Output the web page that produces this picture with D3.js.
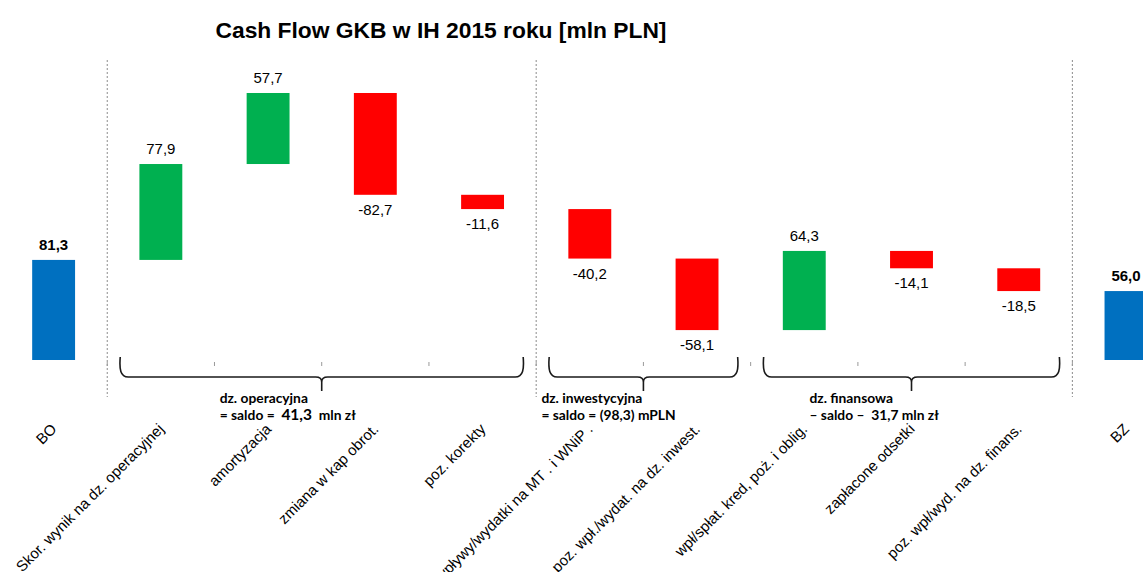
<!DOCTYPE html>
<html>
<head>
<meta charset="utf-8">
<script src="https://cdn.jsdelivr.net/npm/d3@7"></script>
<style>
  html, body { margin: 0; padding: 0; background: #fff; }
  svg { display: block; }
</style>
</head>
<body>
<svg id="chart" width="1143" height="572"></svg>
<script>
// ---- data ----
const title = "Cash Flow GKB w IH 2015 roku [mln PLN]";
const categories = [
  "BO",
  "Skor. wynik na dz. operacyjnej",
  "amortyzacja",
  "zmiana w kap obrot.",
  "poz. korekty",
  "wpływy/wydatki na MT . i WNiP .",
  "poz. wpł./wydat. na dz. inwest.",
  "wpł/spłat. kred, poż. i oblig.",
  "zapłacone odsetki",
  "poz. wpł/wyd. na dz. finans.",
  "BZ"
];
const values = [81.3, 77.9, 57.7, -82.7, -11.6, -40.2, -58.1, 64.3, -14.1, -18.5, 56.0];
const kinds  = ["total","delta","delta","delta","delta","delta","delta","delta","delta","delta","total"];

const sectionNames = ["dz. operacyjna", "dz. inwestycyjna", "dz. finansowa"];
const sectionPrefix = ["= saldo =  ", "= saldo = (98,3) mPLN", "– saldo –  31,7 mln zł"];
const sectionBig    = ["41,3", "", ""];
const sectionSuffix = ["  mln zł", "", ""];
const sectionFirst  = [1, 5, 7];
const sectionLast   = [4, 6, 9];
const separatorsAfter = [0, 4, 9];

// ---- layout ----
const W = 1143, H = 572;
const baseY = 360;
const pxPerUnit = 1.231;
const svg = d3.select("#chart");

const x = d3.scaleBand().domain(categories).range([0, 1179.6]).paddingInner(0.6).paddingOuter(0.3);
const y = d3.scaleLinear().domain([0, 250]).range([baseY, baseY - 250 * pxPerUnit]);

const colPos = "#00B050", colNeg = "#FF0000", colTot = "#0070C0";
const fmt = v => (v < 0 ? "-" : "") + d3.format(".1f")(Math.abs(v)).replace(".", ",");

// waterfall
let running = 0;
const bars = values.map((v, i) => {
  let lo, hi;
  if (kinds[i] === "total") { lo = 0; hi = v; running = v; }
  else { const s = running; running = s + v; lo = Math.min(s, running); hi = Math.max(s, running); }
  return { cat: categories[i], v, kind: kinds[i], lo, hi };
});

const boundary = i => x(categories[i]) + x.bandwidth() / 2 - x.step() / 2;

// title
svg.append("text")
  .attr("x", 441).attr("y", 38)
  .attr("text-anchor", "middle")
  .style("font-family", "'Liberation Sans', Arial, sans-serif")
  .style("font-weight", "bold")
  .style("font-size", "22.8px")
  .text(title);

// separators
svg.selectAll("line.sep").data(separatorsAfter).join("line")
  .attr("class", "sep")
  .attr("x1", d => boundary(d + 1)).attr("x2", d => boundary(d + 1))
  .attr("y1", 60).attr("y2", 397)
  .attr("stroke", "#8c8c8c").attr("stroke-width", 1)
  .attr("stroke-dasharray", "2,2");

// small boundary ticks
svg.selectAll("line.tk").data(d3.range(1, categories.length)).join("line")
  .attr("class", "tk")
  .attr("x1", d => boundary(d)).attr("x2", d => boundary(d))
  .attr("y1", 362).attr("y2", 366)
  .attr("stroke", "#9a9a9a").attr("stroke-width", 1);

// bars
svg.selectAll("rect.bar").data(bars).join("rect")
  .attr("class", "bar")
  .attr("x", d => x(d.cat))
  .attr("width", x.bandwidth())
  .attr("y", d => y(d.hi))
  .attr("height", d => y(d.lo) - y(d.hi))
  .attr("fill", d => d.kind === "total" ? colTot : (d.v >= 0 ? colPos : colNeg));

// value labels
svg.selectAll("text.val").data(bars).join("text")
  .attr("class", "val")
  .attr("x", d => x(d.cat) + x.bandwidth() / 2)
  .attr("y", d => d.v >= 0 ? y(d.hi) - 10 : y(d.lo) + 20)
  .attr("text-anchor", "middle")
  .style("font-family", "'Liberation Sans', Arial, sans-serif")
  .style("font-size", "15px")
  .style("font-weight", d => d.kind === "total" ? "bold" : "normal")
  .attr("fill", "#000")
  .text(d => fmt(d.v));

// x axis labels
const axis = svg.append("g").attr("transform", `translate(0,${baseY})`)
  .call(d3.axisBottom(x).tickSize(0));
axis.select(".domain").remove();
axis.selectAll("text")
  .attr("x", 0).attr("y", 0).attr("dy", 0)
  .attr("transform", "translate(4,70) rotate(-45)")
  .attr("text-anchor", "end")
  .style("font-family", "'Liberation Sans', Arial, sans-serif")
  .style("font-size", "15px")
  .attr("fill", "#000");

// braces
function bracePath(x0, x1, top, line, tip) {
  const m = (x0 + x1) / 2;
  const r = 5;
  return `M${x0},${top} C${x0 - 1},${line - 8} ${x0},${line} ${x0 + r + 3},${line}` +
         ` L${m - 6},${line} C${m - 2},${line} ${m},${line + 2} ${m},${line + 5}` +
         ` L${m},${tip}` +
         ` M${m},${line + 5} C${m},${line + 2} ${m + 2},${line} ${m + 6},${line}` +
         ` L${x1 - r - 3},${line} C${x1},${line} ${x1 + 1},${line - 8} ${x1},${top}`;
}
sectionNames.forEach((name, k) => {
  const x0 = boundary(sectionFirst[k]) + 13;
  const x1 = boundary(sectionLast[k] + 1) - 13;
  svg.append("path")
    .attr("d", bracePath(x0, x1, 357, 377, 391))
    .attr("fill", "none").attr("stroke", "#1a1a1a").attr("stroke-width", 1.6);
  const m = (x0 + x1) / 2;
  const tx = m - 102;
  const g = svg.append("g")
    .style("font-family", "Lato, 'Open Sans', sans-serif")
    .style("font-weight", "bold")
    .style("font-size", "13.8px")
    .attr("fill", "#000");
  g.append("text").attr("x", tx).attr("y", 403).text(name);
  const t2 = g.append("text").attr("x", tx).attr("y", 420).style("white-space", "pre");
  t2.append("tspan").text(sectionPrefix[k]);
  if (sectionBig[k]) t2.append("tspan").style("font-size", "15.5px").text(sectionBig[k]);
  if (sectionSuffix[k]) t2.append("tspan").text(sectionSuffix[k]);
});
</script>
</body>
</html>
